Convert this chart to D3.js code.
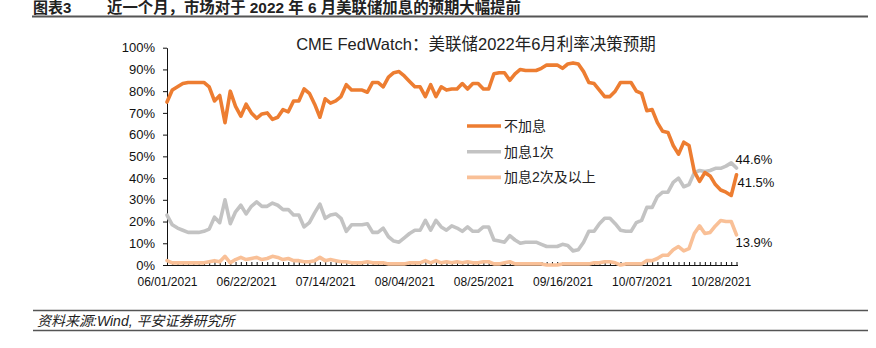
<!DOCTYPE html>
<html>
<head>
<meta charset="utf-8">
<script src="https://cdn.jsdelivr.net/npm/d3@7"></script>
<style>
  html, body { margin: 0; padding: 0; background: #fff; }
  svg { display: block; font-family: "Liberation Sans", Arial, "Noto Sans CJK SC", sans-serif; }
</style>
</head>
<body>
<svg id="chart" width="876" height="348"></svg>
<script>
// Trading days covered by the CME FedWatch snapshot
const dates = [
  "06/01/2021","06/02/2021","06/03/2021","06/04/2021","06/07/2021","06/08/2021","06/09/2021","06/10/2021","06/11/2021",
  "06/14/2021","06/15/2021","06/16/2021","06/17/2021","06/18/2021","06/21/2021","06/22/2021","06/23/2021","06/24/2021",
  "06/25/2021","06/28/2021","06/29/2021","06/30/2021","07/01/2021","07/02/2021","07/06/2021","07/07/2021","07/08/2021",
  "07/09/2021","07/12/2021","07/13/2021","07/14/2021","07/15/2021","07/16/2021","07/19/2021","07/20/2021","07/21/2021",
  "07/22/2021","07/23/2021","07/26/2021","07/27/2021","07/28/2021","07/29/2021","07/30/2021","08/02/2021","08/03/2021",
  "08/04/2021","08/05/2021","08/06/2021","08/09/2021","08/10/2021","08/11/2021","08/12/2021","08/13/2021","08/16/2021",
  "08/17/2021","08/18/2021","08/19/2021","08/20/2021","08/23/2021","08/24/2021","08/25/2021","08/26/2021","08/27/2021",
  "08/30/2021","08/31/2021","09/01/2021","09/02/2021","09/03/2021","09/07/2021","09/08/2021","09/09/2021","09/10/2021",
  "09/13/2021","09/14/2021","09/15/2021","09/16/2021","09/17/2021","09/20/2021","09/21/2021","09/22/2021","09/23/2021",
  "09/24/2021","09/27/2021","09/28/2021","09/29/2021","09/30/2021","10/01/2021","10/04/2021","10/05/2021","10/06/2021",
  "10/07/2021","10/08/2021","10/11/2021","10/12/2021","10/13/2021","10/14/2021","10/15/2021","10/18/2021","10/19/2021",
  "10/20/2021","10/21/2021","10/22/2021","10/25/2021","10/26/2021","10/27/2021","10/28/2021","10/29/2021","11/01/2021",
  "11/02/2021"
];

// Probabilities (%) for the June 2022 FOMC meeting
const noHike = [
  75, 80.5, 82, 83.5, 84, 84, 84, 84, 82, 75.5, 78, 65.5, 80, 73, 68.5, 74, 70, 67.5,
  69.5, 70, 67, 68, 71.5, 70.5, 75.5, 75.5, 81, 79, 74, 68, 76.5, 74.5, 75.5, 77.5, 83, 80.5,
  80.5, 80.5, 79.5, 84, 84, 82, 86.5, 88.5, 89, 87, 84.5, 82, 82, 77.5, 83, 77.5, 82, 80.5,
  81, 81, 83.5, 81, 83.5, 83.5, 81, 81, 88, 88.5, 88.5, 85, 88, 90, 89.5, 89.5, 89.5, 90.5,
  92, 92, 92, 90.5, 92.5, 93, 92.5, 89, 84, 83.5, 80.5, 77.5, 77.5, 80, 84, 84, 84, 80,
  79, 71, 71.5, 65.5, 61.5, 61, 55, 51, 56.5, 55, 43, 38.5, 42.5, 41, 37, 34.5, 33.5, 32,
  41.5
];
const hikeOnce = [
  23, 18.5, 17, 16, 15, 15, 15, 15.5, 16.5, 22, 19.5, 30, 19, 24.5, 27.5, 23.5, 27, 29,
  27, 27, 28.5, 27.5, 25.5, 25.5, 23, 23, 17.5, 19.5, 24, 28, 21.5, 23, 23.5, 21.5, 15.5, 18.5,
  18.5, 18.5, 19, 15, 15, 17, 13, 11, 10.5, 12.5, 14.5, 16, 16, 20.5, 16, 20.5, 17.5, 16,
  18, 17, 15.5, 17.5, 15.5, 15.5, 17.5, 17.5, 11.5, 11, 10.5, 13.5, 11.5, 10, 10.5, 10.5, 10.5, 9.5,
  8.5, 8.5, 8.5, 9.5, 9, 6.5, 7, 10.5, 15.5, 15.5, 19, 21.5, 21.5, 19, 16, 15.5, 15.5, 19.5,
  20.5, 26.5, 26.5, 31.5, 33.5, 33.5, 38, 40, 36, 37, 42.5, 43.5, 43, 43.5, 44.5, 44.5, 45.5, 47,
  44.6
];
const hikeTwicePlus = [
  2, 1, 1, 1, 1, 1, 1, 1, 1.5, 2, 1.5, 4, 1, 2.5, 3.5, 2.5, 3, 3.5,
  2.5, 3, 4, 3.5, 2.5, 3, 2, 2, 1.5, 1.5, 2, 3.5, 2, 2.5, 2, 1.5, 1.5, 1,
  1, 1, 1.5, 1, 1, 1, 0.5, 0.5, 0.5, 0.5, 1, 1, 1, 2, 1, 2, 1, 1.5,
  1, 1.5, 1, 1.5, 1, 1, 1.5, 1.5, 0.5, 0.5, 1, 1.5, 0.5, 0.5, 0.5, 0.5, 0.5, 0.5,
  0, 0, 0, 0.5, 0.5, 0.5, 0.5, 0.5, 0.5, 1, 1, 1.5, 1.5, 1, 0, 0.5, 0.5, 0.5,
  0.5, 2, 2, 3, 4.5, 4.5, 7, 8.5, 6.5, 7.5, 14.5, 18, 14.5, 15, 18, 20.5, 20, 20,
  13.9
];

const seriesNames = ["不加息", "加息1次", "加息2次及以上"];
const seriesColors = ["#ED7D31", "#C3C3C3", "#F9C097"];
const tickLabels = ["06/01/2021","06/22/2021","07/14/2021","08/04/2021","08/25/2021","09/16/2021","10/07/2021","10/28/2021"];
const yTicks = [0, 10, 20, 30, 40, 50, 60, 70, 80, 90, 100];

const headerNo = "图表3";
const headerText = "近一个月，市场对于 2022 年 6 月美联储加息的预期大幅提前";
const chartTitle = "CME FedWatch：美联储2022年6月利率决策预期";
const sourceText = "资料来源:Wind, 平安证券研究所";

const svg = d3.select("#chart");
svg.append("rect").attr("width", 876).attr("height", 348).attr("fill", "#fff");

// Report header and rules
svg.append("text").attr("x", 33).attr("y", 12.5)
  .attr("font-size", 15).attr("font-weight", "bold").attr("fill", "#222").text(headerNo);
svg.append("text").attr("x", 107).attr("y", 12.5)
  .attr("font-size", 15.4).attr("font-weight", "bold").attr("fill", "#222").text(headerText);
svg.append("line").attr("x1", 32).attr("x2", 868).attr("y1", 16.5).attr("y2", 16.5)
  .attr("stroke", "#555").attr("stroke-width", 2);

svg.append("line").attr("x1", 33).attr("x2", 868).attr("y1", 310.5).attr("y2", 310.5)
  .attr("stroke", "#555").attr("stroke-width", 1.6);
svg.append("line").attr("x1", 33).attr("x2", 868).attr("y1", 330.5).attr("y2", 330.5)
  .attr("stroke", "#555").attr("stroke-width", 1.6);
svg.append("text").attr("x", 37).attr("y", 326)
  .attr("font-size", 14).attr("font-style", "italic").attr("fill", "#222").text(sourceText);

// Chart title
svg.append("text").attr("x", 476).attr("y", 49.5).attr("text-anchor", "middle")
  .attr("font-size", 16.5).attr("fill", "#222").text(chartTitle);

// Scales
const x = d3.scalePoint().domain(dates).range([167, 736.5]);
const y = d3.scaleLinear().domain([0, 100]).range([265, 47.7]);

// Y axis
const yAxis = svg.append("g").attr("transform", "translate(167,0)")
  .call(d3.axisLeft(y).tickValues(yTicks).tickSize(4).tickSizeOuter(0).tickPadding(8)
    .tickFormat(d => d + "%"));
yAxis.selectAll("text").attr("font-size", 13).attr("fill", "#111")
  .attr("font-family", "\"Liberation Sans\", Arial, sans-serif");
yAxis.selectAll("line, path").attr("stroke", "#111");

// X axis: a small inward tick on every trading day, labels every 15 days
const xAxis = svg.append("g").attr("transform", "translate(0,265)")
  .call(d3.axisBottom(x).tickSize(-3).tickSizeOuter(0).tickPadding(12)
    .tickFormat(d => tickLabels.includes(d) ? d : ""));
xAxis.selectAll("text").attr("font-size", 12).attr("fill", "#111")
  .attr("font-family", "\"Liberation Sans\", Arial, sans-serif");
xAxis.selectAll("line, path").attr("stroke", "#111");
xAxis.select(".domain").attr("d", `M167,0.5H738`);

// Series lines
const series = [noHike, hikeOnce, hikeTwicePlus];
const line = d3.line().x((d, i) => x(dates[i])).y(d => y(d)).curve(d3.curveLinear);
const plot = svg.append("g");
[2, 1, 0].forEach(k => {
  plot.append("path").datum(series[k])
    .attr("d", line)
    .attr("fill", "none")
    .attr("stroke", seriesColors[k])
    .attr("stroke-width", 3.6)
    .attr("stroke-linejoin", "round")
    .attr("stroke-linecap", "round");
});

// Values at the last trading day
const lastDate = dates[dates.length - 1];
const endOffsets = [8, -9, 7.5];
series.forEach((s, k) => {
  const v = s[s.length - 1];
  svg.append("text")
    .attr("x", x(lastDate) + (k === 0 ? 1 : -1))
    .attr("y", y(v) + endOffsets[k])
    .attr("dominant-baseline", "central")
    .attr("font-size", 13).attr("fill", "#111")
    .attr("font-family", "\"Liberation Sans\", Arial, sans-serif")
    .text(v.toFixed(1) + "%");
});

// Legend
const legend = svg.append("g").attr("transform", "translate(467,126)");
seriesNames.forEach((name, k) => {
  const g = legend.append("g").attr("transform", `translate(0,${k * 25.7})`);
  g.append("line").attr("x1", 0).attr("x2", 34).attr("y1", 0).attr("y2", 0)
    .attr("stroke", seriesColors[k]).attr("stroke-width", 3.6);
  g.append("text").attr("x", 37).attr("y", 0).attr("dominant-baseline", "central")
    .attr("font-size", 14).attr("fill", "#222").text(name);
});
</script>
</body>
</html>
